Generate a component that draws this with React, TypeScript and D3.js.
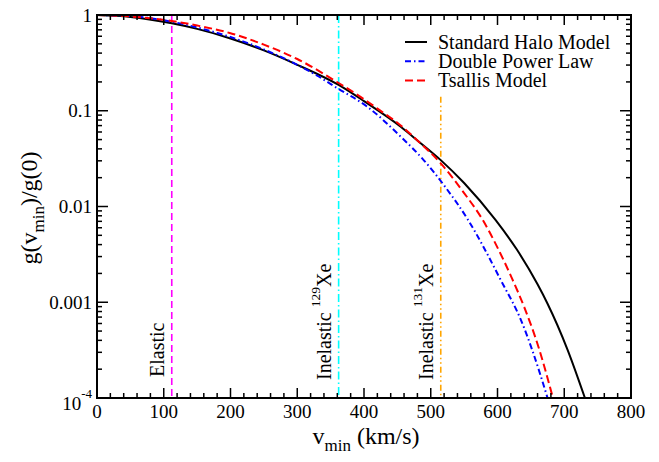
import React from "react";
import * as d3 from "d3";

const vShm = [0, 50, 112, 150, 200, 250, 300, 362, 400, 455, 480, 515, 550, 597, 629, 660, 675, 705, 731];
const gShm = [1, 0.955, 0.818, 0.716, 0.569, 0.427, 0.302, 0.186, 0.126, 0.0681, 0.049, 0.0305, 0.0176, 0.00724, 0.00355, 0.00154, 0.000966, 0.000319, 0.0001];

const vDpl = [0, 50, 112, 150, 200, 250, 300, 330, 360, 405, 455, 490, 520, 555, 605, 637, 652, 675];
const gDpl = [1, 0.973, 0.851, 0.741, 0.589, 0.437, 0.302, 0.232, 0.172, 0.11, 0.0537, 0.0302, 0.0166, 0.00741, 0.0017, 0.000607, 0.000317, 0.0001];

const vTsa = [0, 50, 112, 150, 200, 250, 300, 362, 400, 430, 450, 480, 515, 550, 577, 600, 621, 640, 662, 683];
const gTsa = [1, 0.966, 0.867, 0.776, 0.646, 0.49, 0.347, 0.195, 0.132, 0.094, 0.075, 0.049, 0.0282, 0.0138, 0.00741, 0.00372, 0.00182, 0.000891, 0.000331, 0.0001];

const xTicks = [0, 100, 200, 300, 400, 500, 600, 700, 800];
const yTicks = [1, 0.1, 0.01, 0.001, 0.0001];
const yTickLabels = ["1", "0.1", "0.01", "0.001", "10^-4"];

const markerV = [112, 362, 515];
const markerTop = [1, 1, 0.14];
const markerLabels = ["Elastic", "Inelastic 129Xe", "Inelastic 131Xe"];

const seriesNames = ["Standard Halo Model", "Double Power Law", "Tsallis Model"];

const W = 659, H = 462;
const L = 97, R = 631, T = 15, B = 398;
const FONT = "'Liberation Serif', 'Times New Roman', serif";

export default function App() {
  const x = d3.scaleLinear().domain([0, 800]).range([L, R]);
  const y = d3.scaleLog().domain([1e-4, 1]).range([B, T]);
  const line = d3
    .line<[number, number]>()
    .x((d) => x(d[0]))
    .y((d) => y(d[1]))
    .curve(d3.curveMonotoneX);

  const series = [
    { v: vShm, g: gShm, color: "#000000", dash: "none", name: seriesNames[0] },
    { v: vDpl, g: gDpl, color: "#0000ff", dash: "6,3,1.5,3", name: seriesNames[1] },
    { v: vTsa, g: gTsa, color: "#ff0000", dash: "8,4", name: seriesNames[2] },
  ];

  const markerStyles = [
    { color: "#ff00ff", dash: "7,4" },
    { color: "#00ffff", dash: "8,3,1.5,3" },
    { color: "#ffa500", dash: "6,3,1.5,3,1.5,3" },
  ];

  const xMinor = d3.range(0, 801, 20).filter((v) => v % 100 !== 0);
  const yMinor: number[] = [];
  for (let e = -4; e < 0; e++) for (let k = 2; k <= 9; k++) yMinor.push(k * Math.pow(10, e));

  return (
    <svg width={W} height={H} style={{ position: "absolute", left: 0, top: 0, background: "#fff", fontFamily: FONT }}>
      <defs>
        <clipPath id="plotclip">
          <rect x={L} y={T} width={R - L} height={B - T} />
        </clipPath>
      </defs>
      <rect x={0} y={0} width={W} height={H} fill="#fff" />

      {/* marker lines */}
      {markerV.map((v, i) => (
        <line key={"m" + i} x1={x(v)} x2={x(v)} y1={y(markerTop[i])} y2={B}
          stroke={markerStyles[i].color} strokeWidth={1.6} strokeDasharray={markerStyles[i].dash} />
      ))}

      {/* curves */}
      <g clipPath="url(#plotclip)">
        {series.map((s, i) => (
          <path key={"s" + i} d={line(s.v.map((v, j) => [v, s.g[j]] as [number, number])) || ""}
            fill="none" stroke={s.color} strokeWidth={2} strokeDasharray={s.dash} />
        ))}
      </g>

      {/* frame */}
      <rect x={L} y={T} width={R - L} height={B - T} fill="none" stroke="#000" strokeWidth={2} />

      {/* x ticks */}
      {xTicks.map((v) => (
        <g key={"xt" + v}>
          <line x1={x(v)} x2={x(v)} y1={B} y2={B - 10} stroke="#000" strokeWidth={1.5} />
          <line x1={x(v)} x2={x(v)} y1={T} y2={T + 10} stroke="#000" strokeWidth={1.5} />
          <text x={x(v)} y={418} textAnchor="middle" fontSize={19}>{v}</text>
        </g>
      ))}
      {xMinor.map((v) => (
        <g key={"xm" + v}>
          <line x1={x(v)} x2={x(v)} y1={B} y2={B - 5} stroke="#000" strokeWidth={1.5} />
          <line x1={x(v)} x2={x(v)} y1={T} y2={T + 5} stroke="#000" strokeWidth={1.5} />
        </g>
      ))}

      {/* y ticks */}
      {yTicks.map((g, i) => (
        <g key={"yt" + i}>
          <line x1={L} x2={L + 11} y1={y(g)} y2={y(g)} stroke="#000" strokeWidth={1.5} />
          <line x1={R} x2={R - 11} y1={y(g)} y2={y(g)} stroke="#000" strokeWidth={1.5} />
          {yTickLabels[i].includes("^") ? (
            <text x={92} y={y(g) + 12} textAnchor="end" fontSize={19}>
              {yTickLabels[i].split("^")[0]}
              <tspan fontSize={13} dy={-12}>{yTickLabels[i].split("^")[1]}</tspan>
            </text>
          ) : (
            <text x={92} y={y(g) + 6.5} textAnchor="end" fontSize={19}>{yTickLabels[i]}</text>
          )}
        </g>
      ))}
      {yMinor.map((g, i) => (
        <g key={"ym" + i}>
          <line x1={L} x2={L + 5} y1={y(g)} y2={y(g)} stroke="#000" strokeWidth={1.5} />
          <line x1={R} x2={R - 5} y1={y(g)} y2={y(g)} stroke="#000" strokeWidth={1.5} />
        </g>
      ))}

      {/* marker labels */}
      {markerV.map((v, i) => {
        const parts = markerLabels[i].split(" ");
        const bx = x(v) - 8;
        const by = i === 0 ? 377 : 380;
        return (
          <text key={"ml" + i} transform={`translate(${bx},${by}) rotate(-90)`} fontSize={20}>
            {parts[0]}
            {parts.length > 1 ? (
              <>
                <tspan dx={5} dy={-11} fontSize={13.5}>{parts[1].replace("Xe", "")}</tspan>
                <tspan dy={11} fontSize={20}>Xe</tspan>
              </>
            ) : null}
          </text>
        );
      })}

      {/* legend */}
      {series.map((s, i) => (
        <g key={"lg" + i}>
          <line x1={405} x2={427} y1={42 + i * 19.2} y2={42 + i * 19.2} stroke={s.color} strokeWidth={2} strokeDasharray={s.dash} />
          <text x={438} y={48.5 + i * 19.2} fontSize={20}>{s.name}</text>
        </g>
      ))}

      {/* axis titles */}
      <text x={366} y={444} textAnchor="middle" fontSize={24}>
        v<tspan fontSize={17} dy={7}>min</tspan><tspan dy={-7}> (km/s)</tspan>
      </text>
      <text transform="translate(37,208) rotate(-90)" textAnchor="middle" fontSize={24}>
        g(v<tspan fontSize={17} dy={7}>min</tspan><tspan dy={-7}>)/g(0)</tspan>
      </text>
    </svg>
  );
}
